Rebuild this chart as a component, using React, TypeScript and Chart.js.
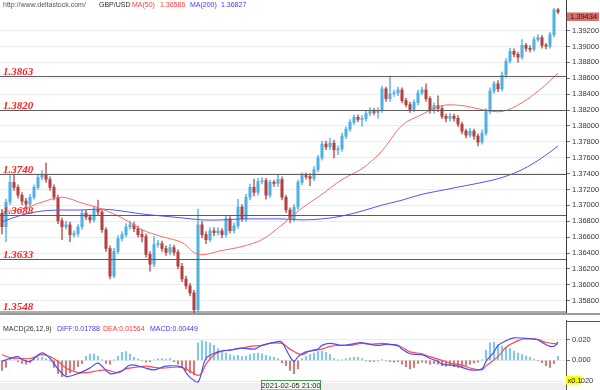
import React, { useEffect, useRef } from "react";
import { Chart, registerables } from "chart.js";

Chart.register(...registerables);

// ---------- data ----------
const opens = [1.36900,1.36731,1.37041,1.37289,1.37227,1.37128,1.37053,1.37016,1.37103,1.37227,
 1.37351,1.37388,1.37326,1.37227,1.37103,1.36805,1.36731,1.36756,1.36632,1.36644,
 1.36731,1.36905,1.36855,1.36818,1.36954,1.36917,1.36694,1.36458,1.36111,1.36421,
 1.36582,1.36632,1.36731,1.36756,1.36706,1.36632,1.36607,1.36384,1.36260,1.36508,
 1.36520,1.36458,1.36409,1.36471,1.36409,1.36235,1.36074,1.35987,1.35900,1.35689,
 1.36756,1.36632,1.36570,1.36681,1.36657,1.36681,1.36632,1.36830,1.36681,1.36743,
 1.36979,1.36830,1.37103,1.37227,1.37165,1.37301,1.37314,1.37128,1.37289,1.37277,
 1.37326,1.37103,1.36942,1.36830,1.36979,1.37289,1.37376,1.37363,1.37339,1.37450,
 1.37599,1.37773,1.37735,1.37785,1.37698,1.37710,1.37872,1.37959,1.38045,1.38107,
 1.38083,1.38090,1.38157,1.38182,1.38169,1.38194,1.38467,1.38343,1.38405,1.38412,
 1.38455,1.38318,1.38269,1.38207,1.38293,1.38417,1.38455,1.38343,1.38194,1.38256,
 1.38219,1.38120,1.38095,1.38120,1.38095,1.38021,1.37934,1.37884,1.37934,1.37872,
 1.37797,1.37909,1.38182,1.38442,1.38529,1.38467,1.38641,1.38814,1.38938,1.38901,
 1.38864,1.39013,1.38975,1.38963,1.39087,1.39112,1.39013,1.39005,1.39149,1.39460];

const highs = [1.36950,1.37080,1.37376,1.37388,1.37260,1.37160,1.37090,1.37140,1.37260,1.37390,
 1.37438,1.37537,1.37360,1.37260,1.37130,1.36840,1.36800,1.36790,1.36680,1.36760,
 1.36940,1.36940,1.36880,1.36990,1.37066,1.36950,1.36720,1.36490,1.36460,1.36620,
 1.36670,1.36770,1.36800,1.36790,1.36740,1.36700,1.36640,1.36420,1.36607,1.36560,
 1.36550,1.36490,1.36510,1.36500,1.36440,1.36270,1.36110,1.36020,1.35930,1.36954,
 1.36800,1.36670,1.36720,1.36720,1.36720,1.36710,1.36870,1.36860,1.36780,1.37078,
 1.37010,1.37140,1.37270,1.37330,1.37340,1.37350,1.37340,1.37320,1.37320,1.37388,
 1.37360,1.37130,1.36970,1.37010,1.37320,1.37410,1.37410,1.37400,1.37490,1.37630,
 1.37810,1.37810,1.37847,1.37820,1.37750,1.37910,1.37990,1.38080,1.38140,1.38140,
 1.38130,1.38190,1.38230,1.38220,1.38230,1.38500,1.38490,1.38628,1.38450,1.38490,
 1.38480,1.38350,1.38300,1.38330,1.38450,1.38490,1.38529,1.38370,1.38290,1.38380,
 1.38250,1.38150,1.38160,1.38150,1.38130,1.38050,1.37960,1.37970,1.37960,1.37900,
 1.37950,1.38220,1.38480,1.38560,1.38570,1.38680,1.38850,1.38980,1.38970,1.38930,
 1.39087,1.39040,1.39010,1.39120,1.39150,1.39140,1.39040,1.39180,1.39490,1.39485];

const lows = [1.36640,1.36545,1.37010,1.37190,1.37090,1.37010,1.36960,1.36990,1.37080,1.37200,
 1.37320,1.37290,1.37190,1.37070,1.36770,1.36570,1.36700,1.36545,1.36600,1.36610,
 1.36700,1.36820,1.36780,1.36790,1.36880,1.36660,1.36420,1.36074,1.36090,1.36390,
 1.36550,1.36600,1.36700,1.36670,1.36600,1.36540,1.36350,1.36173,1.36230,1.36470,
 1.36420,1.36370,1.36380,1.36370,1.36200,1.36040,1.35950,1.35860,1.35652,1.35670,
 1.36590,1.36520,1.36540,1.36620,1.36630,1.36590,1.36600,1.36650,1.36650,1.36710,
 1.36800,1.36800,1.37070,1.37120,1.37130,1.37270,1.37080,1.37100,1.37240,1.37240,
 1.37070,1.36910,1.36781,1.36800,1.36950,1.37260,1.37330,1.37250,1.37310,1.37420,
 1.37570,1.37700,1.37700,1.37599,1.37640,1.37680,1.37840,1.37930,1.38020,1.38050,
 1.37996,1.38060,1.38130,1.38140,1.38095,1.38170,1.38310,1.38310,1.38370,1.38380,
 1.38290,1.38240,1.38170,1.38180,1.38260,1.38390,1.38310,1.38160,1.38160,1.38180,
 1.38090,1.38050,1.38060,1.38060,1.37990,1.37900,1.37850,1.37860,1.37830,1.37748,
 1.37770,1.37880,1.38150,1.38410,1.38430,1.38440,1.38610,1.38790,1.38870,1.38802,
 1.38840,1.38940,1.38930,1.38940,1.39060,1.38980,1.38970,1.38980,1.39120,1.39410];

const closes = [1.36731,1.37041,1.37289,1.37227,1.37128,1.37053,1.37016,1.37103,1.37227,1.37351,
 1.37388,1.37326,1.37227,1.37103,1.36805,1.36731,1.36756,1.36632,1.36644,1.36731,
 1.36905,1.36855,1.36818,1.36954,1.36917,1.36694,1.36458,1.36111,1.36421,1.36582,
 1.36632,1.36731,1.36756,1.36706,1.36632,1.36607,1.36384,1.36260,1.36508,1.36520,
 1.36458,1.36409,1.36471,1.36409,1.36235,1.36074,1.35987,1.35900,1.35689,1.36756,
 1.36632,1.36570,1.36681,1.36657,1.36681,1.36632,1.36830,1.36681,1.36743,1.36979,
 1.36830,1.37103,1.37227,1.37165,1.37301,1.37314,1.37128,1.37289,1.37277,1.37326,
 1.37103,1.36942,1.36830,1.36979,1.37289,1.37376,1.37363,1.37339,1.37450,1.37599,
 1.37773,1.37735,1.37785,1.37698,1.37710,1.37872,1.37959,1.38045,1.38107,1.38083,
 1.38090,1.38157,1.38182,1.38169,1.38194,1.38467,1.38343,1.38405,1.38412,1.38455,
 1.38318,1.38269,1.38207,1.38293,1.38417,1.38455,1.38343,1.38194,1.38256,1.38219,
 1.38120,1.38095,1.38120,1.38095,1.38021,1.37934,1.37884,1.37934,1.37872,1.37797,
 1.37909,1.38182,1.38442,1.38529,1.38467,1.38641,1.38814,1.38938,1.38901,1.38864,
 1.39013,1.38975,1.38963,1.39087,1.39112,1.39013,1.39005,1.39149,1.39460,1.39434];

const ma50Idx = [0,5,10,15,20,25,30,35,40,45,49,55,60,65,70,75,80,85,90,95,100,105,110,115,120,125,130,135,139];
const ma50 = [1.36917,1.36954,1.37041,1.37103,1.37029,1.36954,1.36843,1.36694,1.36607,1.36533,
 1.36384,1.36433,1.36483,1.36570,1.36756,1.36967,1.37140,1.37326,1.37463,1.37686,
 1.38008,1.38145,1.38256,1.38256,1.38207,1.38182,1.38293,1.38479,1.38665];

const ma200Idx = [0,5,10,15,20,25,30,35,40,45,50,55,60,65,70,75,80,85,90,95,100,105,110,115,120,125,130,135,139];
const ma200 = [1.36793,1.36880,1.36929,1.36942,1.36942,1.36954,1.36929,1.36892,1.36867,1.36843,
 1.36818,1.36818,1.36830,1.36830,1.36830,1.36818,1.36830,1.36867,1.36929,1.37004,
 1.37066,1.37140,1.37190,1.37240,1.37289,1.37351,1.37450,1.37599,1.37748];

const diffIdx = [0,2,4,5,7,10,12,14,16,19,22,24,27,30,32,35,38,41,45,46,47,49,51,54,57,60,63,65,69,70,
 72,73,74,75,76,79,80,82,85,87,90,91,94,96,99,100,102,105,107,109,110,114,117,120,121,123,124,126,128,132,
 134,135,137,138,139];
const diffVals = [-0.0009,0.0018,0.0036,0.0009,-0.0009,0.0073,0.0018,-0.0082,-0.0155,-0.0127,
 -0.0073,-0.0027,-0.0127,-0.0100,-0.0045,-0.0064,-0.0091,-0.0055,-0.0064,-0.0118,
 -0.0164,-0.0209,0.0018,0.0082,0.0100,0.0118,0.0109,0.0145,0.0182,0.0173,
 0.0036,-0.0009,0.0036,0.0064,0.0082,0.0109,0.0145,0.0164,0.0145,0.0155,
 0.0173,0.0164,0.0145,0.0155,0.0145,0.0109,0.0064,0.0055,0.0018,-0.0009,
 -0.0036,-0.0055,-0.0091,-0.0082,-0.0009,0.0082,0.0145,0.0191,0.0218,0.0209,
 0.0200,0.0173,0.0136,0.0136,0.0179];

const deaIdx = [0,2,5,7,10,12,14,16,19,21,24,26,29,31,34,36,39,41,44,46,49,50,51,53,55,57,60,62,65,67,
 70,72,75,77,80,82,85,87,90,92,95,97,100,102,105,107,110,112,115,117,120,121,124,126,129,131,134,136,139];
const deaVals = [0.0055,0.0027,0.0018,0.0018,0.0055,0.0036,-0.0009,-0.0073,-0.0118,-0.0118,
 -0.0100,-0.0091,-0.0118,-0.0082,-0.0064,-0.0055,-0.0073,-0.0073,-0.0064,-0.0082,
 -0.0145,-0.0118,-0.0036,0.0055,0.0091,0.0100,0.0118,0.0136,0.0145,0.0164,
 0.0164,0.0109,0.0055,0.0091,0.0109,0.0136,0.0145,0.0145,0.0164,0.0155,
 0.0164,0.0155,0.0127,0.0082,0.0064,0.0036,0.0000,-0.0027,-0.0045,-0.0073,
 -0.0091,-0.0055,0.0036,0.0127,0.0191,0.0209,0.0200,0.0173,0.0156];

const hist = [-0.0097,-0.0067,0.0018,0.0009,-0.0012,-0.0030,-0.0036,-0.0021,0.0018,0.0030,
 0.0030,0.0018,-0.0006,-0.0067,-0.0127,-0.0158,-0.0142,-0.0121,-0.0091,-0.0061,
 -0.0030,0.0039,0.0061,0.0061,0.0039,0.0002,-0.0030,-0.0036,0.0003,0.0039,
 0.0079,0.0085,0.0061,0.0030,0.0015,-0.0006,-0.0018,-0.0012,0.0006,0.0015,
 0.0018,0.0012,0.0018,-0.0012,-0.0036,-0.0067,-0.0097,-0.0121,-0.0140,0.0170,
 0.0191,0.0182,0.0170,0.0145,0.0115,0.0091,0.0070,0.0055,0.0042,0.0048,
 0.0036,0.0042,0.0055,0.0067,0.0070,0.0064,0.0048,0.0036,0.0030,0.0018,
 -0.0021,-0.0052,-0.0097,-0.0127,-0.0082,0.0018,0.0036,0.0055,0.0070,0.0085,
 0.0091,0.0079,0.0055,0.0018,0.0003,0.0006,0.0018,0.0024,0.0033,0.0030,
 0.0018,-0.0006,-0.0012,-0.0009,-0.0003,0.0009,-0.0006,-0.0012,-0.0018,-0.0012,
 -0.0036,-0.0061,-0.0082,-0.0067,-0.0030,-0.0018,-0.0024,-0.0036,-0.0030,-0.0036,
 -0.0052,-0.0055,-0.0048,-0.0061,-0.0067,-0.0061,-0.0048,-0.0036,-0.0024,-0.0018,
 0.0003,0.0100,0.0170,0.0176,0.0152,0.0139,0.0127,0.0115,0.0091,0.0070,
 0.0055,0.0042,0.0030,0.0012,-0.0006,-0.0021,-0.0052,-0.0067,-0.0030,0.0039];

const priceTicks = [1.358,1.360,1.362,1.364,1.366,1.368,1.370,1.372,1.374,1.376,1.378,1.380,1.382,1.384,1.386,1.388,1.390,1.392];
const macdTicks = [-0.02, 0, 0.02];
const levels = [1.3863, 1.3820, 1.3740, 1.3688, 1.3633, 1.3548];
const lastPrice = 1.39434;
const symbol = "GBP/USD";
const siteUrl = "http://www.deltastock.com/";
const ma50Label = "MA(50)";
const ma50Last = "1.36586";
const ma200Label = "MA(200)";
const ma200Last = "1.36827";
const macdTitle = "MACD(26,12,9)";
const diffLast = "DIFF:0.01788";
const deaLast = "DEA:0.01564";
const macdLast = "MACD:0.00449";
const cursorDate = "2021-02-05 21:00";
const scaleBadge = "x0.1";

// ---------- styles ----------
const UP = "#4fb0e4";
const DOWN = "#b4413f";
const UP_WICK = "#6cbde8";
const DOWN_WICK = "#c56a68";
const FONT = '"Liberation Sans", Arial, sans-serif';
const X_MIN = -0.5;
const X_MAX = 141;

export default function App() {
  const mainRef = useRef<HTMLCanvasElement>(null);
  const macdRef = useRef<HTMLCanvasElement>(null);

  useEffect(() => {
    Chart.defaults.font.family = FONT;
    const up = (i: number) => closes[i] >= opens[i];

    const mainPlugin = {
      id: "mainDecor",
      afterDatasetsDraw(chart: any) {
        const { ctx, chartArea: a, scales } = chart;
        const y = scales.y;
        ctx.save();
        levels.forEach((lv) => {
          let py = Math.round(y.getPixelForValue(lv)) + 0.5;
          if (py > a.bottom - 1) py = a.bottom - 1.5;
          ctx.strokeStyle = "#5c5c5c";
          ctx.lineWidth = 1;
          ctx.beginPath();
          ctx.moveTo(a.left, py);
          ctx.lineTo(a.right, py);
          ctx.stroke();
          ctx.font = 'italic bold 11px "Liberation Serif", serif';
          ctx.fillStyle = "#ff2222";
          ctx.textBaseline = "alphabetic";
          ctx.textAlign = "left";
          ctx.fillText(lv.toFixed(4), 3, py - 2);
        });
        ctx.restore();
      },
      afterDraw(chart: any) {
        const { ctx, chartArea: a, scales } = chart;
        const y = scales.y;
        ctx.save();
        ctx.textBaseline = "middle";
        ctx.textAlign = "left";
        const parts = [
          { t: siteUrl, x: 3, c: "#555" },
          { t: symbol, x: 99, c: "#2a2a2a" },
          { t: ma50Label, x: 132, c: "#ff3b3b" },
          { t: ma50Last, x: 160, c: "#ff3b3b" },
          { t: ma200Label, x: 190, c: "#3b3bff" },
          { t: ma200Last, x: 221, c: "#3b3bff" },
        ];
        parts.forEach((p) => {
          ctx.font = "7px " + FONT;
          ctx.fillStyle = p.c;
          ctx.fillText(p.t, p.x, 5);
        });
        ctx.strokeStyle = "#3a3a3a";
        ctx.lineWidth = 1;
        ctx.beginPath();
        ctx.moveTo(a.right + 0.5, 0);
        ctx.lineTo(a.right + 0.5, a.top);
        ctx.stroke();
        ctx.strokeStyle = "#9a9a9a";
        ctx.lineWidth = 2;
        ctx.beginPath();
        ctx.moveTo(0, a.bottom + 0.5);
        ctx.lineTo(600, a.bottom + 0.5);
        ctx.stroke();
        const py = y.getPixelForValue(lastPrice);
        ctx.fillStyle = "#dc6f6c";
        ctx.fillRect(a.right + 1, py + 0.5, 32, 8.5);
        ctx.fillStyle = "#3c0a0a";
        ctx.font = "7.5px " + FONT;
        ctx.fillText(lastPrice.toFixed(5), a.right + 4, py + 5);
        ctx.restore();
      },
    };

    const mainChart = new Chart(mainRef.current as HTMLCanvasElement, {
      type: "bar",
      data: {
        datasets: [
          {
            type: "line",
            data: ma50Idx.map((x, k) => ({ x, y: ma50[k] })),
            borderColor: "#ff6a6a",
            borderWidth: 1,
            pointRadius: 0,
            tension: 0.35,
            order: 0,
          } as any,
          {
            type: "line",
            data: ma200Idx.map((x, k) => ({ x, y: ma200[k] })),
            borderColor: "#5454ff",
            borderWidth: 1,
            pointRadius: 0,
            tension: 0.35,
            order: 0,
          } as any,
          {
            type: "bar",
            data: closes.map((c, i) => ({ x: i, y: [opens[i], c] })),
            backgroundColor: closes.map((_, i) => (up(i) ? UP : DOWN)),
            barThickness: 2.4,
            minBarLength: 1,
            grouped: false,
            order: 1,
          } as any,
          {
            type: "bar",
            data: closes.map((_, i) => ({ x: i, y: [lows[i], highs[i]] })),
            backgroundColor: closes.map((_, i) => (up(i) ? UP_WICK : DOWN_WICK)),
            barThickness: 1,
            grouped: false,
            order: 2,
          } as any,
        ],
      },
      options: {
        responsive: false,
        maintainAspectRatio: false,
        animation: false,
        devicePixelRatio: 1,
        events: [],
        layout: { padding: { top: 8, bottom: 2, left: 0, right: 0 } },
        plugins: { legend: { display: false }, tooltip: { enabled: false } },
        scales: {
          x: { type: "linear", display: false, min: X_MIN, max: X_MAX, offset: false },
          y: {
            position: "right",
            min: 1.3564,
            max: 1.39484,
            afterBuildTicks: (s: any) => {
              s.ticks = priceTicks.map((v) => ({ value: v }));
            },
            afterFit: (s: any) => {
              s.width = 34;
            },
            ticks: {
              autoSkip: false,
              padding: 2,
              color: "#333",
              font: { size: 7.5, family: FONT },
              callback: (v: any) => Number(v).toFixed(5),
            },
            grid: { color: "#ececec", tickLength: 4, tickColor: "#777", drawTicks: true },
            border: { display: true, color: "#3a3a3a", width: 1 },
          },
        },
      } as any,
      plugins: [mainPlugin],
    });

    const macdPlugin = {
      id: "macdDecor",
      afterDraw(chart: any) {
        const { ctx, chartArea: a } = chart;
        ctx.save();
        ctx.textBaseline = "middle";
        ctx.textAlign = "left";
        const parts = [
          { t: macdTitle, x: 3, c: "#333" },
          { t: diffLast, x: 57, c: "#3b3bff" },
          { t: deaLast, x: 103, c: "#ff3b3b" },
          { t: macdLast, x: 150, c: "#3b3bff" },
        ];
        parts.forEach((p) => {
          ctx.font = "7px " + FONT;
          ctx.fillStyle = p.c;
          ctx.fillText(p.t, p.x, 9);
        });
        ctx.fillStyle = "#efefef";
        ctx.fillRect(0, a.bottom, a.right, 70 - a.bottom);
        ctx.strokeStyle = "#555";
        ctx.lineWidth = 1;
        ctx.beginPath();
        ctx.moveTo(a.right, 1.5);
        ctx.lineTo(600, 1.5);
        ctx.stroke();
        ctx.beginPath();
        ctx.moveTo(a.right + 0.5, 0);
        ctx.lineTo(a.right + 0.5, 70);
        ctx.stroke();
        ctx.fillStyle = "#f7f7f7";
        ctx.fillRect(261.5, 60.5, 59, 9.5);
        ctx.strokeStyle = "#4c9a4c";
        ctx.strokeRect(261.5, 60.5, 59, 9.5);
        ctx.fillStyle = "#222";
        ctx.font = "7.5px " + FONT;
        ctx.textAlign = "center";
        ctx.fillText(cursorDate, 291, 65.5);
        ctx.fillStyle = "#ffff00";
        ctx.fillRect(a.right, 56, 15, 8.5);
        ctx.fillStyle = "#111";
        ctx.textAlign = "left";
        ctx.fillText(scaleBadge, a.right + 1.5, 60.5);
        ctx.restore();
      },
    };

    const macdChart = new Chart(macdRef.current as HTMLCanvasElement, {
      type: "bar",
      data: {
        datasets: [
          {
            type: "line",
            data: diffIdx.map((x, k) => ({ x, y: diffVals[k] })),
            borderColor: "#4c4cff",
            borderWidth: 1.2,
            pointRadius: 0,
            tension: 0.35,
            order: 0,
          } as any,
          {
            type: "line",
            data: deaIdx.map((x, k) => ({ x, y: deaVals[k] })),
            borderColor: "#ff4c4c",
            borderWidth: 1.2,
            pointRadius: 0,
            tension: 0.35,
            order: 0,
          } as any,
          {
            type: "bar",
            data: hist.map((v, i) => ({ x: i, y: v })),
            backgroundColor: hist.map((v) => (v >= 0 ? "#86c6e8" : "#c98080")),
            barThickness: 1.5,
            grouped: false,
            order: 1,
          } as any,
        ],
      },
      options: {
        responsive: false,
        maintainAspectRatio: false,
        animation: false,
        devicePixelRatio: 1,
        events: [],
        layout: { padding: { top: 3, bottom: 7, left: 0, right: 0 } },
        plugins: { legend: { display: false }, tooltip: { enabled: false } },
        scales: {
          x: { type: "linear", display: false, min: X_MIN, max: X_MAX, offset: false },
          y: {
            position: "right",
            min: -0.02182,
            max: 0.03273,
            afterBuildTicks: (s: any) => {
              s.ticks = macdTicks.map((v) => ({ value: v }));
            },
            afterFit: (s: any) => {
              s.width = 34;
            },
            ticks: {
              autoSkip: false,
              padding: 2,
              color: "#333",
              font: { size: 7.5, family: FONT },
              callback: (v: any) => Number(v).toFixed(3),
            },
            grid: { color: "#ececec", tickLength: 4, tickColor: "#777", drawTicks: true },
            border: { display: true, color: "#3a3a3a", width: 1 },
          },
        },
      } as any,
      plugins: [macdPlugin],
    });

    return () => {
      mainChart.destroy();
      macdChart.destroy();
    };
  }, []);

  return (
    <div style={{ position: "fixed", left: 0, top: 0, width: 600, height: 390, background: "#fff" }}>
      <canvas ref={mainRef} width={600} height={320} style={{ position: "absolute", left: 0, top: 0, width: 600, height: 320 }} />
      <canvas ref={macdRef} width={600} height={70} style={{ position: "absolute", left: 0, top: 320, width: 600, height: 70 }} />
    </div>
  );
}
